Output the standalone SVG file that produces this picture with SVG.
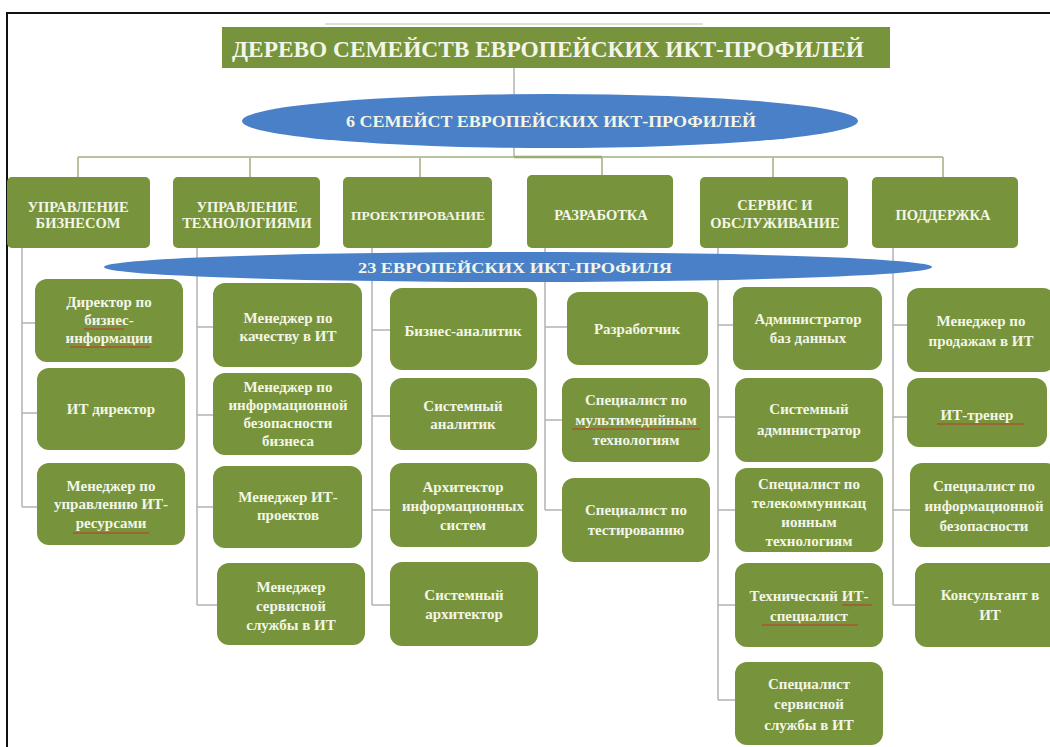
<svg xmlns="http://www.w3.org/2000/svg" width="1050" height="747" viewBox="0 0 1050 747">
<style>
.box{fill:#77933c;}
.t{font-family:"Liberation Serif","DejaVu Serif","Times New Roman",serif;font-weight:bold;fill:#f3f6e6;text-anchor:middle;}
.c{font-size:15px;}
.cat{font-size:14.5px;}
.conn{stroke:#b3b3b3;stroke-width:1.5;fill:none;}
.top{stroke:#b9c29f;stroke-width:2;fill:none;}
.sq{stroke:#c0392b;stroke-width:1;fill:none;}
</style>
<rect width="1050" height="747" fill="#ffffff"/>
<path d="M7 747 V13 H1050" stroke="#111" stroke-width="2" fill="none"/>

<g id="connectors">
  <line x1="325" y1="24" x2="703" y2="24" stroke="#dde2d2" stroke-width="2"/>
  <line class="conn" x1="514" y1="68" x2="514" y2="95"/>
  <line class="conn" x1="514" y1="146" x2="514" y2="157"/>
  <path class="top" d="M78 157 H943 M78 157 V177 M250 157 V177 M420 157 V177 M602 157 V177 M773 157 V177 M943 157 V177"/>
  <path d="M514 157 H602" stroke="#9aab70" stroke-width="2.5" fill="none"/>
  <path class="conn" d="M22 248 V507 M22 323 H35 M22 413 H37 M22 507 H37"/>
  <path class="conn" d="M197 248 V605 M197 327 H213 M197 415 H213 M197 507 H213 M197 605 H217"/>
  <path class="conn" d="M372 248 V605 M372 330 H390 M372 416 H390 M372 510 H390 M372 605 H390"/>
  <path class="conn" d="M545 248 V510 M545 327 H567 M545 420 H562 M545 510 H562"/>
  <path class="conn" d="M718 248 V700 M718 325 H733 M718 417 H735 M718 510 H735 M718 605 H735 M718 700 H735"/>
  <path class="conn" d="M893 248 V605 M893 325 H907 M893 417 H907 M893 510 H910 M893 605 H915"/>
</g>

<g id="title">
  <rect x="222" y="27" width="668" height="41" class="box"/>
  <text x="548" y="57" class="t" font-size="24" textLength="632" lengthAdjust="spacingAndGlyphs">ДЕРЕВО СЕМЕЙСТВ ЕВРОПЕЙСКИХ ИКТ-ПРОФИЛЕЙ</text>
</g>

<g id="families">
  <ellipse cx="550" cy="121" rx="308" ry="27" fill="#4a80c8"/>
  <text x="551" y="127" class="t" font-size="16" textLength="410" lengthAdjust="spacingAndGlyphs">6 СЕМЕЙСТ ЕВРОПЕЙСКИХ ИКТ-ПРОФИЛЕЙ</text>
</g>

<g id="cat1"><rect x="7" y="177" width="143" height="71" rx="5" class="box"/>
  <text class="t cat" x="78" y="212">УПРАВЛЕНИЕ</text><text class="t cat" x="78" y="228">БИЗНЕСОМ</text></g>
<g id="cat2"><rect x="173" y="177" width="147" height="71" rx="5" class="box"/>
  <text class="t cat" x="247" y="212">УПРАВЛЕНИЕ</text><text class="t cat" x="247" y="228">ТЕХНОЛОГИЯМИ</text></g>
<g id="cat3"><rect x="343" y="177" width="149" height="71" rx="5" class="box"/>
  <text class="t" x="418" y="220" font-size="13.5">ПРОЕКТИРОВАНИЕ</text></g>
<g id="cat4"><rect x="527" y="175" width="146" height="73" rx="5" class="box"/>
  <text class="t cat" x="601" y="220">РАЗРАБОТКА</text></g>
<g id="cat5"><rect x="700" y="177" width="148" height="71" rx="5" class="box"/>
  <text class="t cat" x="775" y="210">СЕРВИС И</text><text class="t cat" x="775" y="228">ОБСЛУЖИВАНИЕ</text></g>
<g id="cat6"><rect x="872" y="177" width="146" height="71" rx="5" class="box"/>
  <text class="t cat" x="943" y="220">ПОДДЕРЖКА</text></g>

<g id="profiles">
  <ellipse cx="518" cy="267" rx="414" ry="15" fill="#4a80c8"/>
  <text x="515" y="273" class="t" font-size="15" textLength="314" lengthAdjust="spacingAndGlyphs">23 ЕВРОПЕЙСКИХ ИКТ-ПРОФИЛЯ</text>
</g>

<!-- column 1 -->
<g id="p1-1"><rect x="35" y="279" width="148" height="83" rx="12" class="box"/>
  <text class="t c" x="109" y="307">Директор по</text><text class="t c" x="109" y="325">бизнес-</text><text class="t c" x="109" y="343">информации</text>
  <path class="sq" d="M84 329 H124 M70 347 H150"/></g>
<g id="p1-2"><rect x="37" y="368" width="148" height="82" rx="12" class="box"/>
  <text class="t c" x="111" y="414">ИТ директор</text></g>
<g id="p1-3"><rect x="37" y="463" width="148" height="82" rx="12" class="box"/>
  <text class="t c" x="111" y="491">Менеджер по</text><text class="t c" x="111" y="509">управлению ИТ-</text><text class="t c" x="111" y="528">ресурсами</text>
  <path class="sq" d="M73 533 H149"/></g>

<!-- column 2 -->
<g id="p2-1"><rect x="213" y="283" width="149" height="84" rx="12" class="box"/>
  <text class="t c" x="288" y="323">Менеджер по</text><text class="t c" x="288" y="341">качеству в ИТ</text></g>
<g id="p2-2"><rect x="213" y="373" width="149" height="82" rx="12" class="box"/>
  <text class="t c" x="288" y="392">Менеджер по</text><text class="t c" x="288" y="410">информационной</text><text class="t c" x="288" y="428">безопасности</text><text class="t c" x="288" y="446">бизнеса</text></g>
<g id="p2-3"><rect x="213" y="466" width="149" height="82" rx="12" class="box"/>
  <text class="t c" x="288" y="502">Менеджер ИТ-</text><text class="t c" x="288" y="520">проектов</text></g>
<g id="p2-4"><rect x="217" y="563" width="148" height="82" rx="12" class="box"/>
  <text class="t c" x="291" y="592">Менеджер</text><text class="t c" x="291" y="611">сервисной</text><text class="t c" x="291" y="630">службы в ИТ</text></g>

<!-- column 3 -->
<g id="p3-1"><rect x="390" y="288" width="147" height="82" rx="12" class="box"/>
  <text class="t c" x="463" y="336">Бизнес-аналитик</text></g>
<g id="p3-2"><rect x="390" y="378" width="147" height="72" rx="12" class="box"/>
  <text class="t c" x="463" y="411">Системный</text><text class="t c" x="463" y="429">аналитик</text></g>
<g id="p3-3"><rect x="390" y="463" width="147" height="84" rx="12" class="box"/>
  <text class="t c" x="463" y="492">Архитектор</text><text class="t c" x="463" y="511">информационных</text><text class="t c" x="463" y="530">систем</text></g>
<g id="p3-4"><rect x="390" y="562" width="148" height="84" rx="12" class="box"/>
  <text class="t c" x="464" y="600">Системный</text><text class="t c" x="464" y="619">архитектор</text></g>

<!-- column 4 -->
<g id="p4-1"><rect x="567" y="292" width="141" height="73" rx="12" class="box"/>
  <text class="t c" x="637" y="334">Разработчик</text></g>
<g id="p4-2"><rect x="562" y="378" width="148" height="84" rx="12" class="box"/>
  <text class="t c" x="636" y="405">Специалист по</text><text class="t c" x="636" y="425">мультимедийным</text><text class="t c" x="636" y="445">технологиям</text>
  <path class="sq" d="M572 429 H700"/></g>
<g id="p4-3"><rect x="562" y="478" width="148" height="84" rx="12" class="box"/>
  <text class="t c" x="636" y="515">Специалист по</text><text class="t c" x="636" y="535">тестированию</text></g>

<!-- column 5 -->
<g id="p5-1"><rect x="733" y="287" width="149" height="83" rx="12" class="box"/>
  <text class="t c" x="808" y="324">Администратор</text><text class="t c" x="808" y="343">баз данных</text></g>
<g id="p5-2"><rect x="735" y="378" width="148" height="84" rx="12" class="box"/>
  <text class="t c" x="809" y="414">Системный</text><text class="t c" x="809" y="435">администратор</text></g>
<g id="p5-3"><rect x="735" y="468" width="148" height="84" rx="12" class="box"/>
  <text class="t c" x="809" y="489">Специалист по</text><text class="t c" x="809" y="508">телекоммуникац</text><text class="t c" x="809" y="527">ионным</text><text class="t c" x="809" y="546">технологиям</text></g>
<g id="p5-4"><rect x="735" y="563" width="148" height="84" rx="12" class="box"/>
  <text class="t c" x="809" y="601">Технический ИТ-</text><text class="t c" x="809" y="621">специалист</text>
  <path class="sq" d="M842 605 H872 M762 625 H858"/></g>
<g id="p5-5"><rect x="735" y="662" width="148" height="83" rx="12" class="box"/>
  <text class="t c" x="809" y="689">Специалист</text><text class="t c" x="809" y="709">сервисной</text><text class="t c" x="809" y="730">службы в ИТ</text></g>

<!-- column 6 -->
<g id="p6-1"><rect x="907" y="288" width="148" height="84" rx="12" class="box"/>
  <text class="t c" x="981" y="326">Менеджер по</text><text class="t c" x="981" y="346">продажам в ИТ</text></g>
<g id="p6-2"><rect x="907" y="378" width="140" height="69" rx="12" class="box"/>
  <text class="t c" x="977" y="420">ИТ-тренер</text>
  <path class="sq" d="M937 424 H1024"/></g>
<g id="p6-3"><rect x="910" y="463" width="148" height="84" rx="12" class="box"/>
  <text class="t c" x="984" y="491">Специалист по</text><text class="t c" x="984" y="511">информационной</text><text class="t c" x="984" y="531">безопасности</text></g>
<g id="p6-4"><rect x="915" y="563" width="150" height="84" rx="12" class="box"/>
  <text class="t c" x="990" y="600">Консультант в</text><text class="t c" x="990" y="620">ИТ</text></g>
</svg>
